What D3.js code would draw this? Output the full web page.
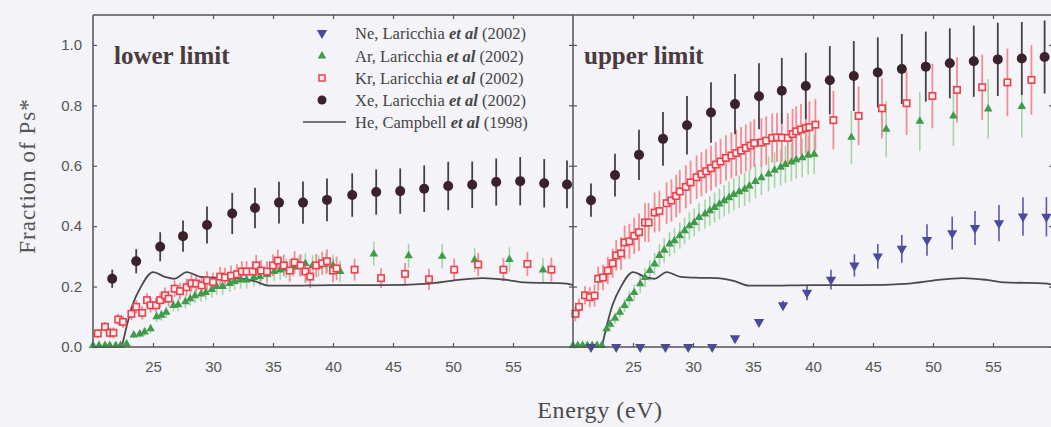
<!DOCTYPE html>
<html>
<head>
<meta charset="utf-8">
<script src="https://cdn.jsdelivr.net/npm/d3@7"></script>
<style>
  html, body { margin: 0; padding: 0; background: #f3f3f8; }
  svg { display: block; }
</style>
</head>
<body>
<svg id="chart" width="1051" height="427"></svg>
<script>
// ---- Data: [energy (eV), fraction of Ps*, error] ----

// Lower-limit panel
const xeLower = [
  [21.6,0.226,0.030],[23.6,0.284,0.040],[25.6,0.332,0.048],[27.5,0.367,0.052],[29.5,0.404,0.061],
  [31.6,0.442,0.068],[33.5,0.460,0.067],[35.5,0.478,0.069],[37.5,0.478,0.070],[39.5,0.487,0.071],
  [41.6,0.503,0.072],[43.6,0.513,0.075],[45.6,0.516,0.075],[47.6,0.524,0.077],[49.6,0.533,0.080],
  [51.6,0.537,0.077],[53.6,0.546,0.078],[55.6,0.549,0.080],[57.6,0.542,0.080],[59.5,0.538,0.079]
];
const krLower = [
  [20.4,0.045,0.015],[21.0,0.067,0.016],[21.4,0.047,0.017],[21.7,0.047,0.018],[22.1,0.091,0.019],
  [22.5,0.083,0.020],[23.2,0.110,0.021],[23.6,0.133,0.022],[24.1,0.113,0.022],[24.5,0.155,0.023],
  [24.8,0.138,0.024],[25.25,0.138,0.024],[25.6,0.155,0.025],[26.0,0.171,0.026],[26.3,0.160,0.026],
  [26.8,0.193,0.027],[27.25,0.185,0.028],[27.8,0.198,0.028],[28.2,0.211,0.029],[28.6,0.210,0.030],
  [29.05,0.204,0.030],[29.5,0.220,0.031],[30.0,0.215,0.031],[30.6,0.233,0.032],[31.0,0.230,0.032],
  [31.5,0.236,0.033],[32.0,0.241,0.033],[32.4,0.250,0.034],[32.8,0.250,0.034],[33.3,0.250,0.034],
  [33.6,0.270,0.035],[34.0,0.253,0.035],[34.5,0.250,0.035],[35.0,0.270,0.036],[35.4,0.286,0.036],
  [35.9,0.270,0.036],[36.4,0.253,0.037],[36.8,0.280,0.037],[37.3,0.270,0.037],[37.7,0.250,0.038],
  [38.1,0.233,0.038],[38.6,0.270,0.038],[39.1,0.277,0.038],[39.5,0.284,0.039],[40.0,0.253,0.039],
  [40.3,0.260,0.039],
  [41.8,0.256,0.036],[44.0,0.228,0.033],[46.0,0.242,0.036],[48.0,0.224,0.035],[50.1,0.256,0.037],
  [52.1,0.273,0.038],[54.2,0.256,0.038],[56.2,0.275,0.040],[58.2,0.256,0.040]
];
const arLower = [
  [20.0,0.005,0.005],[20.5,0.005,0.005],[21.0,0.005,0.005],[21.4,0.005,0.005],[21.9,0.005,0.005],
  [22.3,0.005,0.005],[22.8,0.010,0.005],[23.4,0.040,0.010],[23.9,0.043,0.012],[24.3,0.050,0.013],
  [24.8,0.060,0.015],[25.3,0.100,0.017],[25.7,0.105,0.018],[26.1,0.115,0.019],[26.7,0.137,0.020],
  [27.1,0.140,0.021],[27.7,0.150,0.022],[28.1,0.160,0.023],[28.5,0.170,0.024],[29.0,0.175,0.025],
  [29.4,0.180,0.025],[29.9,0.190,0.026],[30.3,0.200,0.027],[30.8,0.200,0.027],[31.4,0.210,0.028],
  [31.8,0.217,0.028],[32.3,0.222,0.029],[32.8,0.222,0.029],[33.4,0.230,0.030],[33.9,0.233,0.030],
  [34.5,0.240,0.031],[35.1,0.250,0.031],[35.6,0.255,0.032],[36.1,0.260,0.032],[36.7,0.265,0.033],
  [37.2,0.270,0.033],[37.7,0.276,0.034],[38.3,0.270,0.034],[38.8,0.268,0.035],[39.4,0.275,0.035],
  [40.0,0.270,0.035],[40.6,0.250,0.036],
  [43.4,0.308,0.040],[46.3,0.302,0.040],[49.1,0.300,0.040],[51.8,0.288,0.040],[54.7,0.290,0.040],
  [57.5,0.255,0.040]
];

// Upper-limit panel
const xeUpper = [
  [21.5,0.486,0.055],[23.5,0.569,0.071],[25.5,0.636,0.083],[27.5,0.689,0.089],[29.5,0.734,0.097],
  [31.5,0.776,0.100],[33.5,0.804,0.100],[35.5,0.830,0.109],[37.4,0.848,0.109],[39.4,0.864,0.110],
  [41.4,0.883,0.113],[43.4,0.897,0.116],[45.4,0.909,0.116],[47.4,0.920,0.116],[49.4,0.928,0.116],
  [51.4,0.939,0.116],[53.4,0.946,0.118],[55.4,0.952,0.121],[57.4,0.955,0.121],[59.3,0.960,0.121]
];
const krUpper = [
  [20.2,0.110,0.025],[20.5,0.133,0.027],[21.0,0.171,0.030],[21.4,0.165,0.033],[21.8,0.170,0.036],
  [22.1,0.226,0.040],[22.5,0.230,0.042],[22.9,0.253,0.045],[23.3,0.277,0.048],[23.6,0.303,0.051],
  [24.0,0.310,0.054],[24.3,0.346,0.056],[24.7,0.350,0.058],[25.1,0.368,0.060],[25.5,0.380,0.062],
  [26.0,0.412,0.064],[26.3,0.412,0.065],[26.8,0.445,0.066],[27.2,0.450,0.067],[27.8,0.476,0.069],
  [28.2,0.485,0.070],[28.6,0.500,0.070],[28.9,0.515,0.071],[29.4,0.530,0.071],[29.8,0.545,0.072],
  [30.3,0.562,0.072],[30.7,0.572,0.073],[31.1,0.582,0.073],[31.5,0.592,0.074],[31.9,0.604,0.074],
  [32.3,0.614,0.075],[32.75,0.626,0.075],[33.2,0.634,0.076],[33.6,0.642,0.077],[34.0,0.650,0.078],
  [34.4,0.659,0.078],[34.8,0.667,0.079],[35.1,0.675,0.079],[35.7,0.677,0.080],[36.1,0.683,0.080],
  [36.6,0.692,0.081],[37.0,0.694,0.081],[37.4,0.693,0.082],[37.9,0.692,0.082],[38.3,0.705,0.083],
  [38.6,0.714,0.083],[39.0,0.720,0.084],[39.4,0.725,0.084],[39.7,0.728,0.085],[40.2,0.736,0.085],
  [41.7,0.751,0.097],[43.8,0.765,0.097],[45.75,0.790,0.100],[47.8,0.807,0.105],[49.95,0.831,0.107],
  [52.0,0.851,0.108],[54.1,0.860,0.108],[56.2,0.876,0.112],[58.2,0.884,0.115]
];
const arUpper = [
  [20.0,0.005,0.005],[20.4,0.005,0.005],[20.8,0.005,0.005],[21.2,0.005,0.005],[21.6,0.005,0.005],
  [22.0,0.005,0.005],[22.4,0.005,0.005],[22.8,0.060,0.012],[23.1,0.075,0.015],[23.5,0.095,0.018],
  [23.9,0.115,0.020],[24.3,0.137,0.022],[24.7,0.160,0.025],[25.1,0.180,0.027],[25.6,0.209,0.030],
  [26.0,0.230,0.032],[26.4,0.253,0.034],[26.8,0.275,0.036],[27.2,0.303,0.038],[27.6,0.320,0.040],
  [28.05,0.341,0.041],[28.45,0.352,0.042],[28.9,0.368,0.043],[29.3,0.385,0.044],[29.7,0.401,0.045],
  [30.1,0.412,0.046],[30.5,0.429,0.047],[31.0,0.440,0.048],[31.4,0.451,0.049],[31.8,0.462,0.050],
  [32.2,0.473,0.051],[32.6,0.484,0.052],[33.0,0.494,0.053],[33.4,0.505,0.053],[33.85,0.514,0.054],
  [34.3,0.522,0.055],[34.7,0.533,0.055],[35.2,0.548,0.056],[35.7,0.560,0.057],[36.3,0.573,0.058],
  [36.8,0.585,0.059],[37.3,0.595,0.060],[37.7,0.604,0.061],[38.2,0.612,0.062],[38.6,0.620,0.063],
  [39.1,0.626,0.064],[39.6,0.635,0.065],[40.1,0.638,0.066],
  [43.2,0.694,0.088],[46.1,0.721,0.093],[48.9,0.747,0.097],[51.7,0.765,0.100],[54.6,0.788,0.099],
  [57.4,0.796,0.104]
];
const neUpper = [
  [21.5,0.000,0],[23.6,0.000,0],[25.6,0.000,0],[27.7,0.000,0],[29.6,0.000,0],
  [31.6,0.000,0],[33.5,0.029,0.005],[35.5,0.083,0.010],[37.5,0.138,0.015],[39.5,0.180,0.025],
  [41.5,0.223,0.033],[43.45,0.270,0.037],[45.4,0.300,0.041],[47.4,0.325,0.046],[49.5,0.354,0.052],
  [51.6,0.377,0.054],[53.5,0.394,0.056],[55.5,0.410,0.060],[57.5,0.432,0.064],[59.45,0.431,0.065]
];

// He, Campbell et al (1998): same curve in both panels
const heCurve = [
  [22.4,0.0],[23.3,0.14],[24.0,0.20],[25.0,0.248],[26.0,0.232],[26.8,0.226],[27.8,0.248],
  [29.0,0.232],[30.5,0.229],[32.0,0.228],[33.3,0.220],[34.7,0.203],[36.0,0.203],[40.0,0.205],
  [44.0,0.205],[48.0,0.210],[50.0,0.220],[52.5,0.228],[54.5,0.222],[56.0,0.214],[59.5,0.210],
  [60.0,0.205]
];

const xTicks = [25, 30, 35, 40, 45, 50, 55];
const yTicks = [0, 0.2, 0.4, 0.6, 0.8, 1.0];
const panelTitles = ["lower limit", "upper limit"];
const legendEntries = [
  { gas: "Ne", author: "Laricchia", year: "(2002)", kind: "ne" },
  { gas: "Ar", author: "Laricchia", year: "(2002)", kind: "ar" },
  { gas: "Kr", author: "Laricchia", year: "(2002)", kind: "kr" },
  { gas: "Xe", author: "Laricchia", year: "(2002)", kind: "xe" },
  { gas: "He", author: "Campbell", year: "(1998)", kind: "he" }
];

// ---- Styles ----
const style = {
  ne: { fill: "#4a4a9c", bar: "#5a5aa8", barW: 1.6 },
  ar: { fill: "#3f9b4b", bar: "#a3d6a3", barW: 1.6 },
  kr: { fill: "#fbecee", stroke: "#e8424c", bar: "#f28c92", barW: 1.8 },
  xe: { fill: "#3b2129", bar: "#4a3f46", barW: 1.8 },
  he: { stroke: "#4a4a4a" }
};
const axisColor = "#555";
const serif = "'Liberation Serif', 'DejaVu Serif', serif";
const sans = "'Liberation Sans', Arial, sans-serif";

// ---- Scales ----
const yMax = 1.099;
const y = d3.scaleLinear([0, yMax], [347, 15]);
const xLower = d3.scaleLinear([20, 60], [93, 573]);
const xUpper = d3.scaleLinear([20, 60], [573, 1053]);

const svg = d3.select("#chart");

function errorBars(g, x, data, st) {
  g.append("g").selectAll("line")
    .data(data.filter(d => d[2] > 0))
    .join("line")
    .attr("x1", d => x(d[0])).attr("x2", d => x(d[0]))
    .attr("y1", d => y(d[1] - d[2])).attr("y2", d => y(d[1] + d[2]))
    .attr("stroke", st.bar).attr("stroke-width", st.barW);
}

const triUp = d3.symbol(d3.symbolTriangle, 32)();
const triDown = d3.symbol(d3.symbolTriangle, 46)();

function markers(g, x, data, kind) {
  const s = style[kind];
  const sel = g.append("g").selectAll("path,rect,circle").data(data);
  if (kind === "xe") {
    sel.join("circle").attr("cx", d => x(d[0])).attr("cy", d => y(d[1]))
      .attr("r", 5).attr("fill", s.fill);
  } else if (kind === "kr") {
    sel.join("rect").attr("x", d => x(d[0]) - 3.2).attr("y", d => y(d[1]) - 3.2)
      .attr("width", 6.4).attr("height", 6.4)
      .attr("fill", s.fill).attr("stroke", s.stroke).attr("stroke-width", 1.6);
  } else if (kind === "ar") {
    sel.join("path").attr("d", triUp)
      .attr("transform", d => `translate(${x(d[0])},${y(d[1])})`)
      .attr("fill", s.fill);
  } else if (kind === "ne") {
    sel.join("path").attr("d", triDown)
      .attr("transform", d => `translate(${x(d[0])},${y(d[1])}) rotate(180)`)
      .attr("fill", s.fill);
  }
}

const heLine = x => d3.line().x(d => x(d[0])).y(d => y(d[1])).curve(d3.curveMonotoneX);

function axes(g, x, showYLabels) {
  const [x0, x1] = x.range();
  const styleAxis = a => {
    a.select(".domain").remove();
    a.selectAll(".tick line").attr("stroke", axisColor).attr("stroke-width", 1.2);
    a.selectAll(".tick text").attr("fill", "#555").style("font-family", sans).style("font-size", "15px");
  };
  g.append("g").attr("transform", `translate(0,${y(0)})`)
    .call(d3.axisBottom(x).tickValues(xTicks).tickSize(-4).tickPadding(14).tickFormat(d3.format("d")))
    .call(styleAxis);
  g.append("g").attr("transform", `translate(0,${y(yMax)})`)
    .call(d3.axisTop(x).tickValues(xTicks).tickSize(-4).tickFormat(""))
    .call(styleAxis);
  g.append("g").attr("transform", `translate(${x0},0)`)
    .call(d3.axisLeft(y).tickValues(yTicks).tickSize(-4).tickPadding(11)
      .tickFormat(showYLabels ? d3.format(".1f") : ""))
    .call(styleAxis);
  g.append("g").attr("transform", `translate(${x1},0)`)
    .call(d3.axisRight(y).tickValues(yTicks).tickSize(-4).tickFormat(""))
    .call(styleAxis);
}

function panel(x, series, title, titleX, titleY, showYLabels) {
  const g = svg.append("g");
  // error bars underneath everything
  series.forEach(([data, kind]) => errorBars(g, x, data, style[kind]));
  g.append("path").datum(heCurve).attr("d", heLine(x))
    .attr("fill", "none").attr("stroke", style.he.stroke).attr("stroke-width", 1.8);
  series.forEach(([data, kind]) => markers(g, x, data, kind));
  axes(g, x, showYLabels);
  g.append("text").attr("x", titleX).attr("y", titleY).text(title)
    .attr("fill", "#4a3c3e").style("font-family", serif)
    .style("font-size", "25px").style("font-weight", "bold");
}

panel(xLower, [[arLower, "ar"], [krLower, "kr"], [xeLower, "xe"]], panelTitles[0], 114, 64, true);
panel(xUpper, [[arUpper, "ar"], [krUpper, "kr"], [xeUpper, "xe"], [neUpper, "ne"]], panelTitles[1], 584, 64, false);

// Frame: outer box plus the shared divider
svg.append("path")
  .attr("d", `M${xLower(20)},${y(yMax)}H${xUpper(60)}M${xLower(20)},${y(yMax)}V${y(0)}H${xUpper(60)}M${xUpper(20)},${y(yMax)}V${y(0)}M${xUpper(60)},${y(yMax)}V${y(0)}`)
  .attr("fill", "none").attr("stroke", axisColor).attr("stroke-width", 1.5);

// Legend
const legend = svg.append("g");
const legendRowY = [33, 56, 78, 100, 122];
legendEntries.forEach((e, i) => {
  const cy = legendRowY[i];
  if (e.kind === "he") {
    legend.append("line").attr("x1", 303).attr("x2", 346).attr("y1", cy).attr("y2", cy)
      .attr("stroke", style.he.stroke).attr("stroke-width", 1.6);
  } else {
    const s = style[e.kind];
    if (e.kind === "xe") legend.append("circle").attr("cx", 322).attr("cy", cy).attr("r", 4.5).attr("fill", s.fill);
    if (e.kind === "kr") legend.append("rect").attr("x", 319).attr("y", cy - 3).attr("width", 6).attr("height", 6)
      .attr("fill", s.fill).attr("stroke", s.stroke).attr("stroke-width", 1.5);
    if (e.kind === "ar") legend.append("path").attr("d", triUp).attr("transform", `translate(322,${cy})`).attr("fill", s.fill);
    if (e.kind === "ne") legend.append("path").attr("d", triDown).attr("transform", `translate(322,${cy}) rotate(180)`).attr("fill", s.fill);
  }
  const t = legend.append("text").attr("x", 355).attr("y", cy + 5.5)
    .attr("fill", "#454545").style("font-family", serif).style("font-size", "16.5px");
  t.append("tspan").text(`${e.gas}, ${e.author} `);
  t.append("tspan").text("et al").style("font-style", "italic").style("font-weight", "bold");
  t.append("tspan").text(` ${e.year}`);
});

// Axis titles
svg.append("text").attr("x", 600).attr("y", 418).attr("text-anchor", "middle")
  .text("Energy (eV)").attr("fill", "#4a4a4a")
  .style("font-family", serif).style("font-size", "24px").style("letter-spacing", "0.6px");
svg.append("text").attr("transform", "translate(35,176) rotate(-90)").attr("text-anchor", "middle")
  .text("Fraction of Ps*").attr("fill", "#555")
  .style("font-family", serif).style("font-size", "23px").style("letter-spacing", "1px");
</script>
</body>
</html>
